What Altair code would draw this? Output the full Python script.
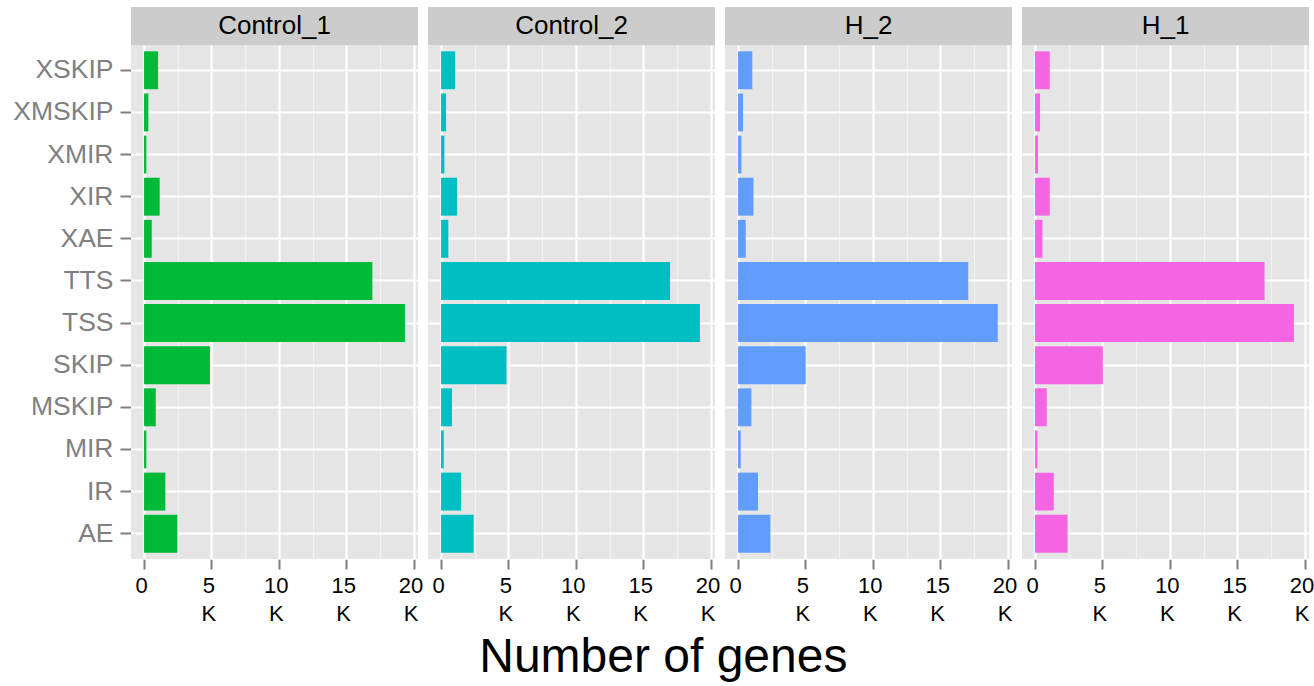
import altair as alt
import pandas as pd

samples = ["Control_1", "Control_2", "H_2", "H_1"]
categories = ["AE", "IR", "MIR", "MSKIP", "SKIP", "TSS", "TTS",
              "XAE", "XIR", "XMIR", "XMSKIP", "XSKIP"]
control_1 = [2470, 1580, 170, 870, 4890, 19360, 16940, 570, 1160, 170, 320, 1040]
control_2 = [2420, 1480, 200, 810, 4860, 19210, 16990, 540, 1190, 250, 370, 1040]
h_2 = [2400, 1480, 200, 990, 5020, 19270, 17080, 570, 1140, 250, 370, 1060]
h_1 = [2410, 1390, 170, 870, 5030, 19210, 17030, 550, 1090, 220, 370, 1090]
colors = ["#00BA38", "#00BFC4", "#619CFF", "#F564E3"]
x_ticks = [0, 2500, 5000, 7500, 10000, 12500, 15000, 17500, 20000]

series = {"Control_1": control_1, "Control_2": control_2, "H_2": h_2, "H_1": h_1}
rows = []
for s in samples:
    for c, v in zip(categories, series[s]):
        rows.append({"sample": s, "category": c, "genes": v})
df = pd.DataFrame(rows)

vmax = df["genes"].max()
pad = 0.05 * vmax
W = 287
H = 514
FONT = "Liberation Sans"

major = "datum.value % 5000 === 0"

x_axis = alt.Axis(
    title=None,
    values=x_ticks,
    labelExpr="datum.value % 5000 !== 0 ? '' : (datum.value === 0 ? '0' : [format(datum.value / 1000, 'd'), 'K'])",
    labelFontSize=22,
    labelColor="#000000",
    labelFont=FONT,
    labelLineHeight=28,
    labelPadding=6,
    labelOffset=-3,
    labelOverlap=False,
    labelFlush=False,
    tickSize=10,
    tickWidth=2,
    tickColor="#7F7F7F",
    tickOpacity={"condition": {"test": major, "value": 1}, "value": 0},
    domain=False,
    grid=True,
    gridColor={"condition": {"test": major, "value": "#FFFFFF"}, "value": "#F2F2F2"},
    gridWidth={"condition": {"test": major, "value": 2.2}, "value": 1.2},
)

y_axis = alt.Axis(
    title=None,
    labelFontSize=26.5,
    labelColor="#7F7F7F",
    labelFont=FONT,
    labelPadding=7,
    tickSize=11,
    tickWidth=2,
    tickColor="#7F7F7F",
    domain=False,
    grid=True,
    gridColor="#FFFFFF",
    gridWidth=2.2,
    bandPosition=0.5,
)

base = alt.Chart(df)

strip_bg = base.transform_filter(alt.datum.category == "XSKIP").mark_rect(
    color="#CCCCCC"
).encode(
    x=alt.value(0), x2=alt.value(W), y=alt.value(-38), y2=alt.value(0)
)

strip_text = base.transform_filter(alt.datum.category == "XSKIP").mark_text(
    fontSize=26, font=FONT, color="#000000", baseline="middle", align="center"
).encode(
    text="sample:N", x=alt.value(W / 2), y=alt.value(-19)
)

bars = base.mark_bar().encode(
    x=alt.X("genes:Q", axis=x_axis,
            scale=alt.Scale(domain=[-pad, vmax + pad], nice=False, zero=False)),
    y=alt.Y("category:N", sort=categories[::-1], axis=y_axis,
            scale=alt.Scale(paddingInner=0.1, paddingOuter=0.15)),
    color=alt.Color("sample:N", scale=alt.Scale(domain=samples, range=colors), legend=None),
)

layer = alt.layer(strip_bg, strip_text, bars).properties(width=W, height=H)

chart = layer.facet(
    column=alt.Column("sample:N", sort=samples, header=alt.Header(title=None, labels=False)),
    spacing=10,
).properties(
    title=alt.TitleParams(
        "Number of genes", orient="bottom", anchor="middle", frame="bounds",
        fontSize=48, fontWeight="normal", color="#000000", font=FONT, offset=10
    ),
    padding={"left": 12, "top": 7, "right": 0, "bottom": 0},
).configure(
    font=FONT, background="#FFFFFF"
).configure_view(
    fill="#E5E5E5", stroke=None
)

chart.save("out.html", embed_options={"renderer": "svg", "actions": False})
